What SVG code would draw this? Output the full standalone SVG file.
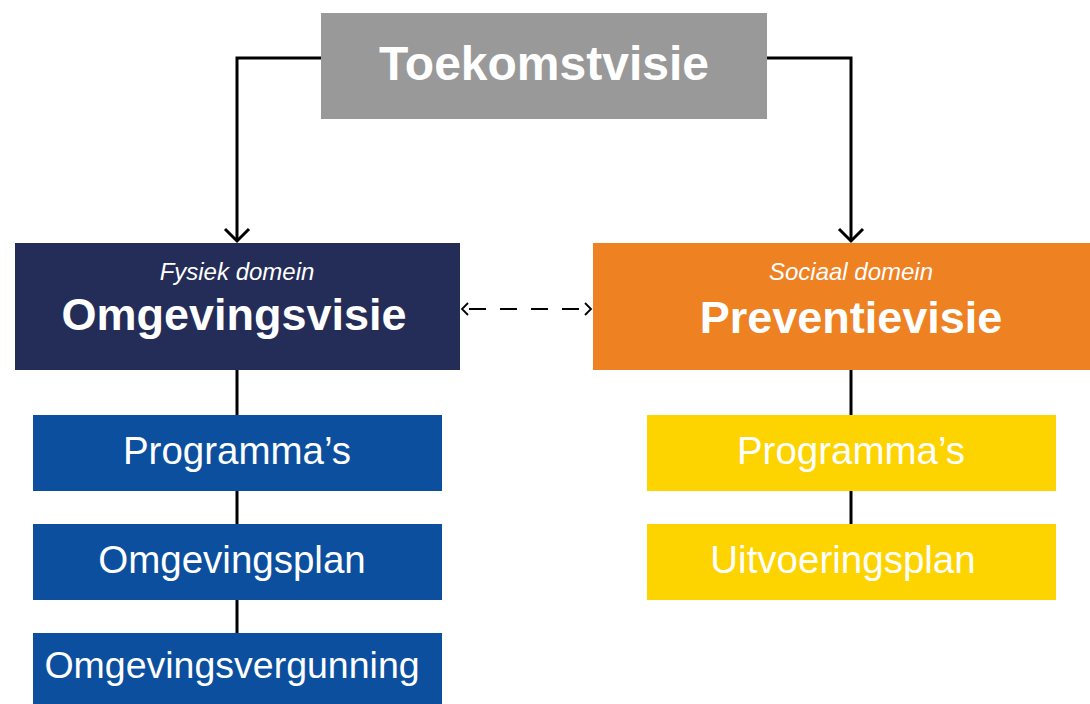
<svg xmlns="http://www.w3.org/2000/svg" width="1090" height="704" viewBox="0 0 1090 704">
<style>
text{font-family:"Liberation Sans",Arial,sans-serif;fill:#fff;text-anchor:middle}
.big{font-weight:bold;font-size:45px}
.sub{font-style:italic;font-size:24px}
.item{font-size:38.5px}
.conn{stroke:#000;stroke-width:3;fill:none}
</style>
<defs>
<marker id="arr" markerUnits="userSpaceOnUse" markerWidth="30" markerHeight="30" refX="15" refY="15" orient="auto">
<path d="M3,3 L15,15 L3,27" fill="none" stroke="#000" stroke-width="3"/>
</marker>
<marker id="sarr" markerUnits="userSpaceOnUse" markerWidth="16" markerHeight="16" refX="8" refY="8" orient="auto-start-reverse">
<path d="M3,2 L9,8 L3,14" fill="none" stroke="#000" stroke-width="1.8"/>
</marker>
</defs>
<rect width="1090" height="704" fill="#fff"/>
<g id="connectors">
<path class="conn" d="M321,58 H237 V241" marker-end="url(#arr)"/>
<path class="conn" d="M767,58 H851 V241" marker-end="url(#arr)"/>
<line x1="237" y1="370" x2="237" y2="633" class="conn"/>
<line x1="851" y1="370" x2="851" y2="524" class="conn"/>
<line x1="463" y1="309" x2="590" y2="309" stroke="#000" stroke-width="2" stroke-dasharray="17,14" stroke-dashoffset="-6" marker-start="url(#sarr)" marker-end="url(#sarr)"/>
</g>
<g id="toekomstvisie">
<rect x="321" y="13" width="446" height="106" fill="#999999"/>
<text x="544" y="80" style="font-weight:bold;font-size:48px">Toekomstvisie</text>
</g>
<g id="omgevingsvisie">
<rect x="15" y="243" width="445" height="127" fill="#232d58"/>
<text x="237" y="280" class="sub">Fysiek domein</text>
<text x="234" y="330" class="big">Omgevingsvisie</text>
</g>
<g id="preventievisie">
<rect x="593" y="243" width="497" height="127" fill="#ee8122"/>
<text x="851" y="280" class="sub">Sociaal domein</text>
<text x="851" y="333" class="big">Preventievisie</text>
</g>
<g id="programmas-fysiek">
<rect x="33" y="415" width="409" height="76" fill="#0b4f9e"/>
<text x="237" y="464" class="item">Programma’s</text>
</g>
<g id="omgevingsplan">
<rect x="33" y="524" width="409" height="76" fill="#0b4f9e"/>
<text x="232" y="573" class="item">Omgevingsplan</text>
</g>
<g id="omgevingsvergunning">
<rect x="33" y="633" width="409" height="71" fill="#0b4f9e"/>
<text x="232" y="678" class="item" style="font-size:37.5px">Omgevingsvergunning</text>
</g>
<g id="programmas-sociaal">
<rect x="647" y="415" width="409" height="76" fill="#fdd300"/>
<text x="851" y="464" class="item">Programma’s</text>
</g>
<g id="uitvoeringsplan">
<rect x="647" y="524" width="409" height="76" fill="#fdd300"/>
<text x="843" y="573" class="item">Uitvoeringsplan</text>
</g>
</svg>
